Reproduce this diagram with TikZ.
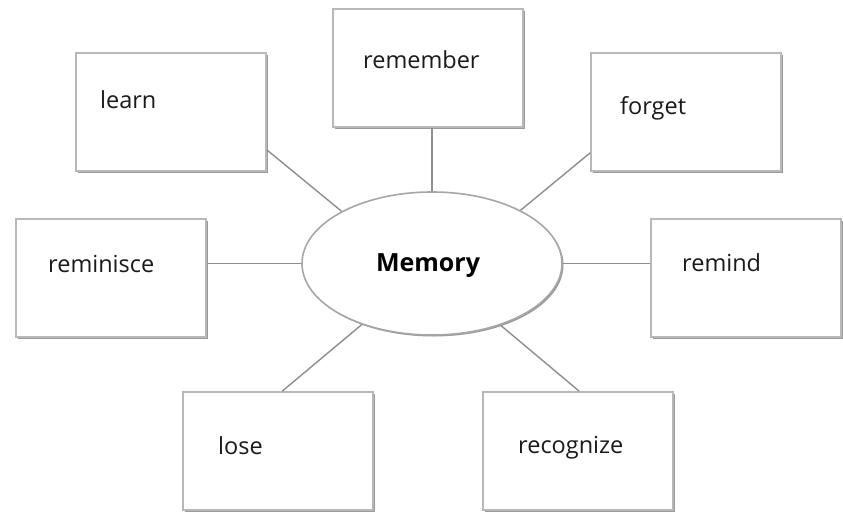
\documentclass[tikz,border=0pt]{standalone}
\usepackage{fontspec}
\setmainfont{Open Sans}
\usetikzlibrary{shapes.geometric,shadows,calc}
\definecolor{boxline}{HTML}{B8B8B8}
\definecolor{shadowgray}{HTML}{9A9A9A}
\definecolor{conn}{HTML}{8E8E8E}
\definecolor{txt}{HTML}{1A1A1A}
\tikzset{
  wordbox/.style={draw=boxline, line width=1.6pt, fill=white, rectangle,
    minimum width=190pt, minimum height=118pt, inner sep=0pt,
    drop shadow={shadow xshift=2.2pt, shadow yshift=-2.2pt, fill=shadowgray, opacity=1}},
  centre/.style={draw=boxline!90!black, line width=1.6pt, fill=white, ellipse,
    minimum width=260pt, minimum height=143pt, inner sep=0pt,
    drop shadow={shadow xshift=1.5pt, shadow yshift=-1.5pt, fill=shadowgray, opacity=1}},
  word/.style={anchor=base west, inner sep=0pt, text=txt, font=\fontsize{23.5}{28}\selectfont},
  link/.style={draw=conn, line width=1.4pt}
}
\begin{document}
\begin{tikzpicture}[x=1pt,y=-1pt]
\path[use as bounding box, fill=white] (0,0) rectangle (843,514);
% boxes
\node[wordbox] (learn) at (171,112) {};
\node[wordbox] (remember) at (428,68) {};
\node[wordbox] (forget) at (686,112) {};
\node[wordbox] (reminisce) at (111,278) {};
\node[wordbox] (remind) at (746,278) {};
\node[wordbox] (lose) at (278,451) {};
\node[wordbox] (recognize) at (578,451) {};
\node[centre] (mem) at (432,263.5) {};
% connectors
\draw[link] ($(learn.south east)+(0,-22)$) -- (mem.150);
\draw[link] (remember.south) ++(4pt,0) coordinate (rs) (rs) -- (rs |- mem.north);
\draw[link] ($(forget.south west)+(0,-19)$) -- (mem.31);
\draw[link] (reminisce.east |- mem.west) -- (mem.west);
\draw[link] (mem.east) -- (remind.west |- mem.east);
\draw[link] (mem.221) -- ($(lose.north west)+(100,0)$);
\draw[link] (mem.318) -- ($(recognize.north west)+(97,0)$);
% texts
\node[word] (tlearn) at (100,108) {learn};
\node[word] (tremember) at (363,68) {remember};
\node[word] (tforget) at (620,114) {forget};
\node[word] (treminisce) at (48,272) {reminisce};
\node[word] (tremind) at (682,271) {remind};
\node[word] (tlose) at (218,454) {lose};
\node[word] (trecognize) at (518,453) {recognize};
\node[font=\fontsize{25}{30}\selectfont\bfseries, text=black, anchor=base, inner sep=0pt] (tmem) at (428,271) {Memory};
\end{tikzpicture}
\end{document}
